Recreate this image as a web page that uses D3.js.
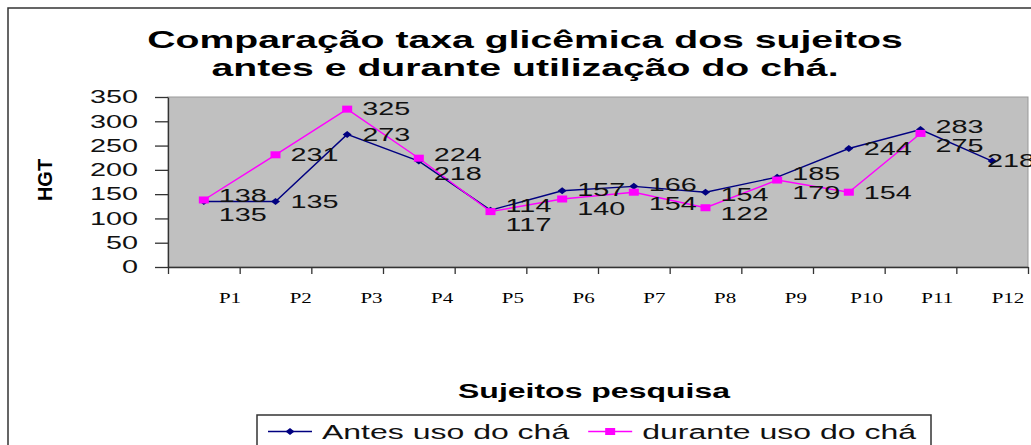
<!DOCTYPE html>
<html>
<head>
<meta charset="utf-8">
<script src="https://cdn.jsdelivr.net/npm/d3@7"></script>
<style>
  html, body { margin: 0; padding: 0; background: #fff; overflow: hidden; }
</style>
</head>
<body>
<div id="chart"></div>
<script>
// Data
const subjects = ["P1", "P2", "P3", "P4", "P5", "P6", "P7", "P8", "P9", "P10", "P11", "P12"];
const antes = [135, 135, 273, 218, 117, 157, 166, 154, 185, 244, 283, 218];
const durante = [138, 231, 325, 224, 114, 140, 154, 122, 179, 154, 275, null];
const yTicks = [0, 50, 100, 150, 200, 250, 300, 350];
const seriesNames = ["Antes uso do chá", "durante uso do chá"];
const titleLines = ["Comparação taxa glicêmica dos sujeitos", "antes e durante utilização do chá."];
const xTitle = "Sujeitos pesquisa";
const yTitle = "HGT";

const width = 1031, height = 445;
const SX = 1.6; // the picture is stretched horizontally, so is its text
const sans = "'Liberation Sans', Arial, sans-serif";
const serif = "'Liberation Serif', 'Times New Roman', serif";

const marginLeft = 168, plotRight = 1028, plotTop = 97, plotBottom = 267;

const svg = d3.select("#chart").append("svg")
  .attr("width", width)
  .attr("height", height)
  .attr("viewBox", [0, 0, width, height]);

// stretched text helper: anchor at (tx, ty)
function label(g, tx, ty, txt, sx = SX) {
  return g.append("text")
    .attr("transform", `translate(${tx},${ty}) scale(${sx},1)`)
    .text(txt);
}

// outer frame (right and bottom run off the picture)
svg.append("rect")
  .attr("x", 8).attr("y", 8)
  .attr("width", width).attr("height", height)
  .attr("fill", "none").attr("stroke", "#333").attr("stroke-width", 1.5);

// Title
const title = svg.append("g")
  .attr("font-family", sans).attr("font-weight", "bold").attr("font-size", 24.5)
  .attr("text-anchor", "middle").attr("fill", "#000");
titleLines.forEach((t, i) => label(title, 525, 48 + i * 28.4, t));

// Scales
const x = d3.scaleLinear([0, subjects.length], [marginLeft, plotRight]);
const y = d3.scaleLinear([0, 350], [plotBottom, plotTop]);

// plot area
svg.append("rect")
  .attr("x", marginLeft).attr("y", plotTop)
  .attr("width", plotRight - marginLeft).attr("height", plotBottom - plotTop)
  .attr("fill", "#c0c0c0").attr("stroke", "#999").attr("stroke-width", 1);

// y axis
svg.append("g")
  .attr("transform", `translate(${marginLeft},0)`)
  .call(d3.axisLeft(y).tickValues(yTicks).tickSize(13).tickSizeOuter(0))
  .call(g => g.select(".domain").attr("stroke", "#333").attr("stroke-width", 1.3))
  .call(g => g.selectAll(".tick line").attr("stroke", "#333").attr("stroke-width", 1.3))
  .call(g => g.selectAll(".tick text")
    .attr("x", -30 / SX)
    .attr("transform", `scale(${SX},1)`)
    .attr("font-size", 18).attr("font-family", sans).attr("fill", "#111"));

// x axis (ticks between categories)
svg.append("g")
  .attr("transform", `translate(0,${plotBottom})`)
  .call(d3.axisBottom(x).tickValues(d3.range(subjects.length + 1)).tickSize(7).tickSizeOuter(0).tickFormat(""))
  .call(g => g.select(".domain").attr("stroke", "#333").attr("stroke-width", 1.3))
  .call(g => g.selectAll(".tick line").attr("stroke", "#333").attr("stroke-width", 1.3));

// category labels (pasted serif text, drifted right of the ticks)
const xLab = d3.scalePoint(subjects, [230, 1008]);
const catG = svg.append("g")
  .attr("font-family", serif).attr("font-size", 15).attr("text-anchor", "middle").attr("fill", "#000");
subjects.forEach(s => label(catG, xLab(s), 303, s, 1.4));

// axis titles
const xt = svg.append("g")
  .attr("font-family", sans).attr("font-weight", "bold").attr("font-size", 20)
  .attr("text-anchor", "middle").attr("fill", "#000");
label(xt, 594, 398, xTitle);

svg.append("text")
  .attr("transform", `translate(52,${(plotTop + plotBottom) / 2 - 2}) rotate(-90)`)
  .attr("font-family", sans).attr("font-weight", "bold").attr("font-size", 20)
  .attr("text-anchor", "middle").attr("fill", "#000")
  .text(yTitle);

// series
const series = [
  { name: seriesNames[0], values: antes, color: "#000080", marker: "diamond" },
  { name: seriesNames[1], values: durante, color: "#ff00ff", marker: "square" }
];

const line = d3.line()
  .defined(d => d != null)
  .x((d, i) => x(i + 0.5))
  .y(d => y(d));

function drawMarker(g, type, color) {
  if (type === "diamond") {
    g.append("path").attr("d", "M0,-3.5L4.5,0L0,3.5L-4.5,0Z").attr("fill", color);
  } else {
    g.append("rect").attr("x", -5).attr("y", -3.5).attr("width", 10).attr("height", 7).attr("fill", color);
  }
}

series.forEach(s => {
  svg.append("path")
    .attr("d", line(s.values))
    .attr("fill", "none")
    .attr("stroke", s.color)
    .attr("stroke-width", 1.4);
});
series.forEach(s => {
  s.values.forEach((v, i) => {
    if (v == null) return;
    const g = svg.append("g").attr("transform", `translate(${x(i + 0.5)},${y(v)})`);
    drawMarker(g, s.marker, s.color);
  });
});

// data labels: right of the point, pairs that collide are spread apart
const labG = svg.append("g")
  .attr("font-family", sans).attr("font-size", 18).attr("fill", "#111");
subjects.forEach((c, i) => {
  const pts = series
    .map((s, k) => ({ k, v: s.values[i] }))
    .filter(p => p.v != null)
    .map(p => ({ ...p, y: y(p.v) }));
  if (pts.length === 2) {
    pts.sort((a, b) => Math.abs(a.y - b.y) < 2 ? b.k - a.k : a.y - b.y);
    const gap = 19;
    if (Math.abs(pts[1].y - pts[0].y) < gap) {
      const mid = (pts[0].y + pts[1].y) / 2;
      pts[0].ly = mid - 5;
      pts[1].ly = mid - 5 + gap;
    }
  }
  pts.forEach(p => {
    const lx = Math.min(x(i + 0.5) + 15, width - 44);
    label(labG, lx, (p.ly ?? p.y), p.v).attr("dy", "0.35em");
  });
});

// legend
const legend = svg.append("g");
legend.append("rect")
  .attr("x", 257).attr("y", 415).attr("width", 674).attr("height", 40)
  .attr("fill", "#fff").attr("stroke", "#333").attr("stroke-width", 1.5);
let lx = 268;
const ly = 431.5;
series.forEach(s => {
  legend.append("line")
    .attr("x1", lx).attr("x2", lx + 44).attr("y1", ly).attr("y2", ly)
    .attr("stroke", s.color).attr("stroke-width", 1.4);
  drawMarker(legend.append("g").attr("transform", `translate(${lx + 22},${ly})`), s.marker, s.color);
  const t = label(legend, lx + 54, 438.5, s.name)
    .attr("font-family", sans).attr("font-size", 20).attr("fill", "#111");
  lx += 54 + t.node().getComputedTextLength() * SX + 19;
});
</script>
</body>
</html>
